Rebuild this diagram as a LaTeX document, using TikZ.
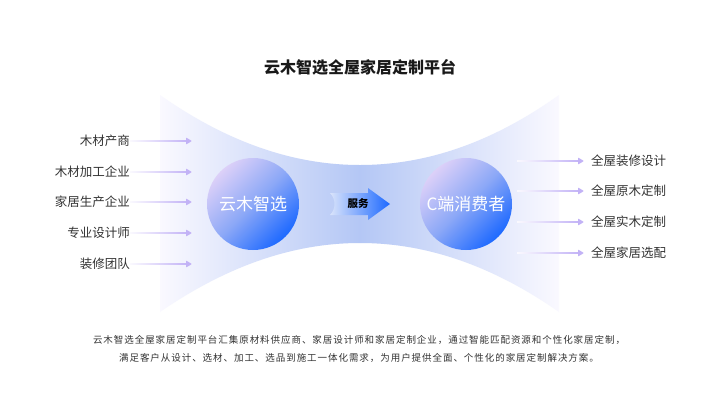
\documentclass[tikz,border=0pt]{standalone}
\usepackage{fontspec}
\setmainfont{Noto Sans CJK SC}
\usetikzlibrary{arrows.meta}
\definecolor{flowedge}{HTML}{FAF9FF}
\definecolor{flowblue}{HTML}{B4C7F5}
\definecolor{hublilac}{HTML}{DCD0F8}
\definecolor{hubmid}{HTML}{8CA8F7}
\definecolor{hubblue}{HTML}{1D69FF}
\definecolor{svcpale}{HTML}{D9E3FB}
\definecolor{feedlilac}{HTML}{C2B2F6}
\definecolor{labelgray}{HTML}{333333}
\newcommand{\feedarrow}[2]{%
  \shade[left color=feedlilac!8, right color=feedlilac]
    ([shift={(0,-0.9)}]#1) rectangle ([shift={(-4,0.9)}]#2);
  \fill[feedlilac, rounded corners=0.6pt] ([shift={(-6,-3.5)}]#2) -- (#2) -- ([shift={(-6,3.5)}]#2) -- cycle;}
\begin{document}
\begin{tikzpicture}[x=1pt,y=-1pt,
  lbl/.style={font=\fontsize{12.5}{14}\selectfont, text=labelgray, inner sep=0pt},
  hub/.style={circle, minimum size=92pt, inner sep=0pt, text=white,
    font=\fontsize{17}{20}\selectfont,
    top color=hublilac, bottom color=hubblue, middle color=hubmid, shading angle=45}]
  \useasboundingbox (0,0) rectangle (720,405);
  \fill[white] (0,0) rectangle (720,405);
  % funnel
  \shade[left color=flowedge, right color=flowedge, middle color=flowblue]
    (160,95) .. controls (227,142) and (293,165) .. (360,165)
    .. controls (427,165) and (493,142) .. (559,95) -- (559,312)
    .. controls (493,266) and (427,243) .. (360,243)
    .. controls (293,243) and (227,266) .. (160,312) -- cycle;
  \node (title) at (360,67) [font=\bfseries\fontsize{16}{19}\selectfont, text=black!90] {云木智选全屋家居定制平台};
  % service arrow
  \shade[left color=svcpale, right color=hubblue]
    (330,193) -- (368,193) -- (368,188) -- (390,204) -- (368,220) -- (368,215) -- (330,215)
    .. controls (336,209) and (336,199) .. (330,193) -- cycle;
  \node (svc) at (358,204) [font=\bfseries\fontsize{10.5}{12}\selectfont] {服务};
  \node[hub] (yunmu) at (253,204) {云木智选};
  \node[hub] (client) at (466,204) {C端消费者};
  % suppliers
  \node[lbl, anchor=east] (src1) at (130,141) {木材产商};
  \node[lbl, anchor=east] (src2) at (130,172) {木材加工企业};
  \node[lbl, anchor=east] (src3) at (130,202) {家居生产企业};
  \node[lbl, anchor=east] (src4) at (130,233) {专业设计师};
  \node[lbl, anchor=east] (src5) at (130,264) {装修团队};
  \coordinate (s1) at (192,141);
  \coordinate (s2) at (192,172);
  \coordinate (s3) at (192,202);
  \coordinate (s4) at (192,233);
  \coordinate (s5) at (192,264);
  \feedarrow{src1.east}{s1}
  \feedarrow{src2.east}{s2}
  \feedarrow{src3.east}{s3}
  \feedarrow{src4.east}{s4}
  \feedarrow{src5.east}{s5}
  % offers
  \node[lbl, anchor=west] (out1) at (591,161) {全屋装修设计};
  \node[lbl, anchor=west] (out2) at (591,191) {全屋原木定制};
  \node[lbl, anchor=west] (out3) at (591,222) {全屋实木定制};
  \node[lbl, anchor=west] (out4) at (591,253) {全屋家居选配};
  \coordinate (o1) at (517,161);
  \coordinate (o2) at (517,191);
  \coordinate (o3) at (517,222);
  \coordinate (o4) at (517,253);
  \coordinate (t1) at ([xshift=-7pt]out1.west);
  \coordinate (t2) at ([xshift=-7pt]out2.west);
  \coordinate (t3) at ([xshift=-7pt]out3.west);
  \coordinate (t4) at ([xshift=-7pt]out4.west);
  \feedarrow{o1}{t1}
  \feedarrow{o2}{t2}
  \feedarrow{o3}{t3}
  \feedarrow{o4}{t4}
  \node (note) at (359,349) [align=center, text=labelgray,
    font=\fontsize{9.5}{18}\selectfont\addfontfeature{LetterSpace=10}]
    {云木智选全屋家居定制平台汇集原材料供应商、家居设计师和家居定制企业，通过智能匹配资源和个性化家居定制，\\
     满足客户从设计、选材、加工、选品到施工一体化需求，为用户提供全面、个性化的家居定制解决方案。};
\end{tikzpicture}
\end{document}
